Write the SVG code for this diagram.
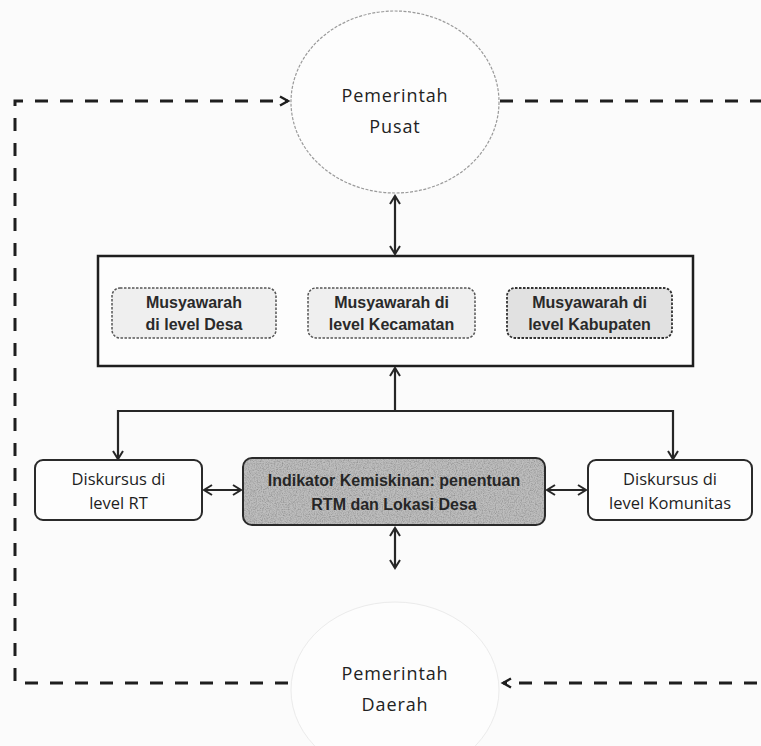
<svg xmlns="http://www.w3.org/2000/svg" width="761" height="746" viewBox="0 0 761 746">
<style>
.bg{fill:#fbfbfb}
.circ{fill:#fdfdfd;stroke:#9a9a9a;stroke-width:1.2;stroke-dasharray:3 1.5}
.circ2{fill:#fdfdfd;stroke:#ebebeb;stroke-width:1}
.ctxt{font-family:"Open Sans","Liberation Sans",sans-serif;font-size:18px;fill:#222;text-anchor:middle;letter-spacing:0.9px}
.frame{fill:#fdfdfd;stroke:#1e1e1e;stroke-width:2.5}
.inner{fill:#efefef;stroke:#555;stroke-width:1.5;stroke-dasharray:2.5 1.5}
.inner2{fill:#e1e1e1;stroke:#333;stroke-width:1.8;stroke-dasharray:2.5 1.5}
.itxt{font-family:"Liberation Sans",Arial,sans-serif;font-size:16px;font-weight:bold;fill:#2a2a2a;text-anchor:middle}
.wbox{fill:#fdfdfd;stroke:#2a2a2a;stroke-width:2}
.gfill{fill:#bdbdbd}
.gbox{fill:none;stroke:#2a2a2a;stroke-width:2}
.wtxt{font-family:"Open Sans","Liberation Sans",sans-serif;font-size:16.5px;fill:#1e1e1e;text-anchor:middle}
.gtxt{font-family:"Liberation Sans",Arial,sans-serif;font-size:16px;font-weight:bold;fill:#262626;text-anchor:middle}
.dash{fill:none;stroke:#1e1e1e;stroke-width:3;stroke-dasharray:13 12}
.solid{fill:none;stroke:#262626;stroke-width:2.2}
.thin{fill:none;stroke:#444;stroke-width:1.3}
</style>
<defs>
<filter id="speck" x="0" y="0" width="100%" height="100%">
<feTurbulence type="fractalNoise" baseFrequency="0.85" numOctaves="2" seed="4" result="n"/>
<feColorMatrix in="n" type="matrix" values="0 0 0 0 0.3  0 0 0 0 0.3  0 0 0 0 0.3  0 0 0 -2.2 1.35" result="dots"/>
<feComposite in="dots" in2="SourceGraphic" operator="in" result="d2"/>
<feMerge><feMergeNode in="SourceGraphic"/><feMergeNode in="d2"/></feMerge>
</filter>
<marker id="ah" markerUnits="userSpaceOnUse" markerWidth="14" markerHeight="14" refX="9" refY="6" orient="auto-start-reverse">
<path d="M1,1 L9,6 L1,11" fill="none" stroke="#262626" stroke-width="2" stroke-dasharray="none"/>
</marker>
<marker id="ahs" markerUnits="userSpaceOnUse" markerWidth="10" markerHeight="10" refX="7" refY="4.5" orient="auto-start-reverse">
<path d="M1,1 L7,4.5 L1,8" fill="none" stroke="#444" stroke-width="1.3" stroke-dasharray="none"/>
</marker>
<marker id="ahd" markerUnits="userSpaceOnUse" markerWidth="14" markerHeight="14" refX="9" refY="6" orient="auto-start-reverse">
<path d="M1,1.5 L9,6 L1,10.5" fill="none" stroke="#1e1e1e" stroke-width="2.4" stroke-dasharray="none"/>
</marker>
</defs>
<rect class="bg" x="0" y="0" width="761" height="746"/>

<g id="pemerintah-daerah">
<ellipse class="circ2" cx="395" cy="690" rx="104" ry="88"/>
<text class="ctxt" x="395" y="680">Pemerintah</text>
<text class="ctxt" x="395" y="711">Daerah</text>
</g>

<g id="connectors">
<path class="dash" d="M288,683 H15 V101 H288" marker-end="url(#ahd)"/>
<path class="dash" d="M500,101 H775 V683 H503" marker-end="url(#ahd)"/>
<line class="solid" x1="395" y1="196" x2="395" y2="254" marker-start="url(#ah)" marker-end="url(#ah)"/>
<line class="thin" x1="279" y1="313" x2="306" y2="313" marker-start="url(#ahs)" marker-end="url(#ahs)"/>
<line class="thin" x1="477" y1="313" x2="505" y2="313" marker-start="url(#ahs)" marker-end="url(#ahs)"/>
<line class="solid" x1="395" y1="411" x2="395" y2="368" marker-end="url(#ah)"/>
<path class="solid" d="M118,459 V411 H673 V459" marker-start="url(#ah)" marker-end="url(#ah)"/>
<line class="solid" x1="204" y1="490" x2="241" y2="490" marker-start="url(#ah)" marker-end="url(#ah)"/>
<line class="solid" x1="547" y1="490" x2="586" y2="490" marker-start="url(#ah)" marker-end="url(#ah)"/>
<line class="solid" x1="395" y1="528" x2="395" y2="568" marker-start="url(#ah)" marker-end="url(#ah)"/>
</g>

<g id="pemerintah-pusat">
<ellipse class="circ" cx="395" cy="102" rx="104" ry="91"/>
<text class="ctxt" x="395" y="102">Pemerintah</text>
<text class="ctxt" x="395" y="133">Pusat</text>
</g>

<g id="musyawarah-frame">
<rect class="frame" x="98" y="256" width="595" height="110"/>
</g>

<g id="musyawarah-desa">
<rect class="inner" x="112" y="288" width="164" height="50" rx="8"/>
<text class="itxt" x="194" y="308">Musyawarah</text>
<text class="itxt" x="194" y="330">di level Desa</text>
</g>

<g id="musyawarah-kecamatan">
<rect class="inner" x="308" y="288" width="167" height="50" rx="8"/>
<text class="itxt" x="391.5" y="308">Musyawarah di</text>
<text class="itxt" x="391.5" y="330">level Kecamatan</text>
</g>

<g id="musyawarah-kabupaten">
<rect class="inner2" x="507" y="288" width="165" height="50" rx="8"/>
<text class="itxt" x="589.5" y="308">Musyawarah di</text>
<text class="itxt" x="589.5" y="330">level Kabupaten</text>
</g>

<g id="diskursus-rt">
<rect class="wbox" x="35" y="460" width="167" height="60" rx="8"/>
<text class="wtxt" x="118.5" y="485">Diskursus di</text>
<text class="wtxt" x="118.5" y="509">level RT</text>
</g>

<g id="indikator">
<rect class="gfill" x="243" y="458" width="302" height="67" rx="9" filter="url(#speck)"/>
<rect class="gbox" x="243" y="458" width="302" height="67" rx="9"/>
<text class="gtxt" x="394" y="486">Indikator Kemiskinan: penentuan</text>
<text class="gtxt" x="394" y="510">RTM dan Lokasi Desa</text>
</g>

<g id="diskursus-komunitas">
<rect class="wbox" x="588" y="460" width="164" height="60" rx="8"/>
<text class="wtxt" x="670" y="485">Diskursus di</text>
<text class="wtxt" x="670" y="509">level Komunitas</text>
</g>
</svg>
